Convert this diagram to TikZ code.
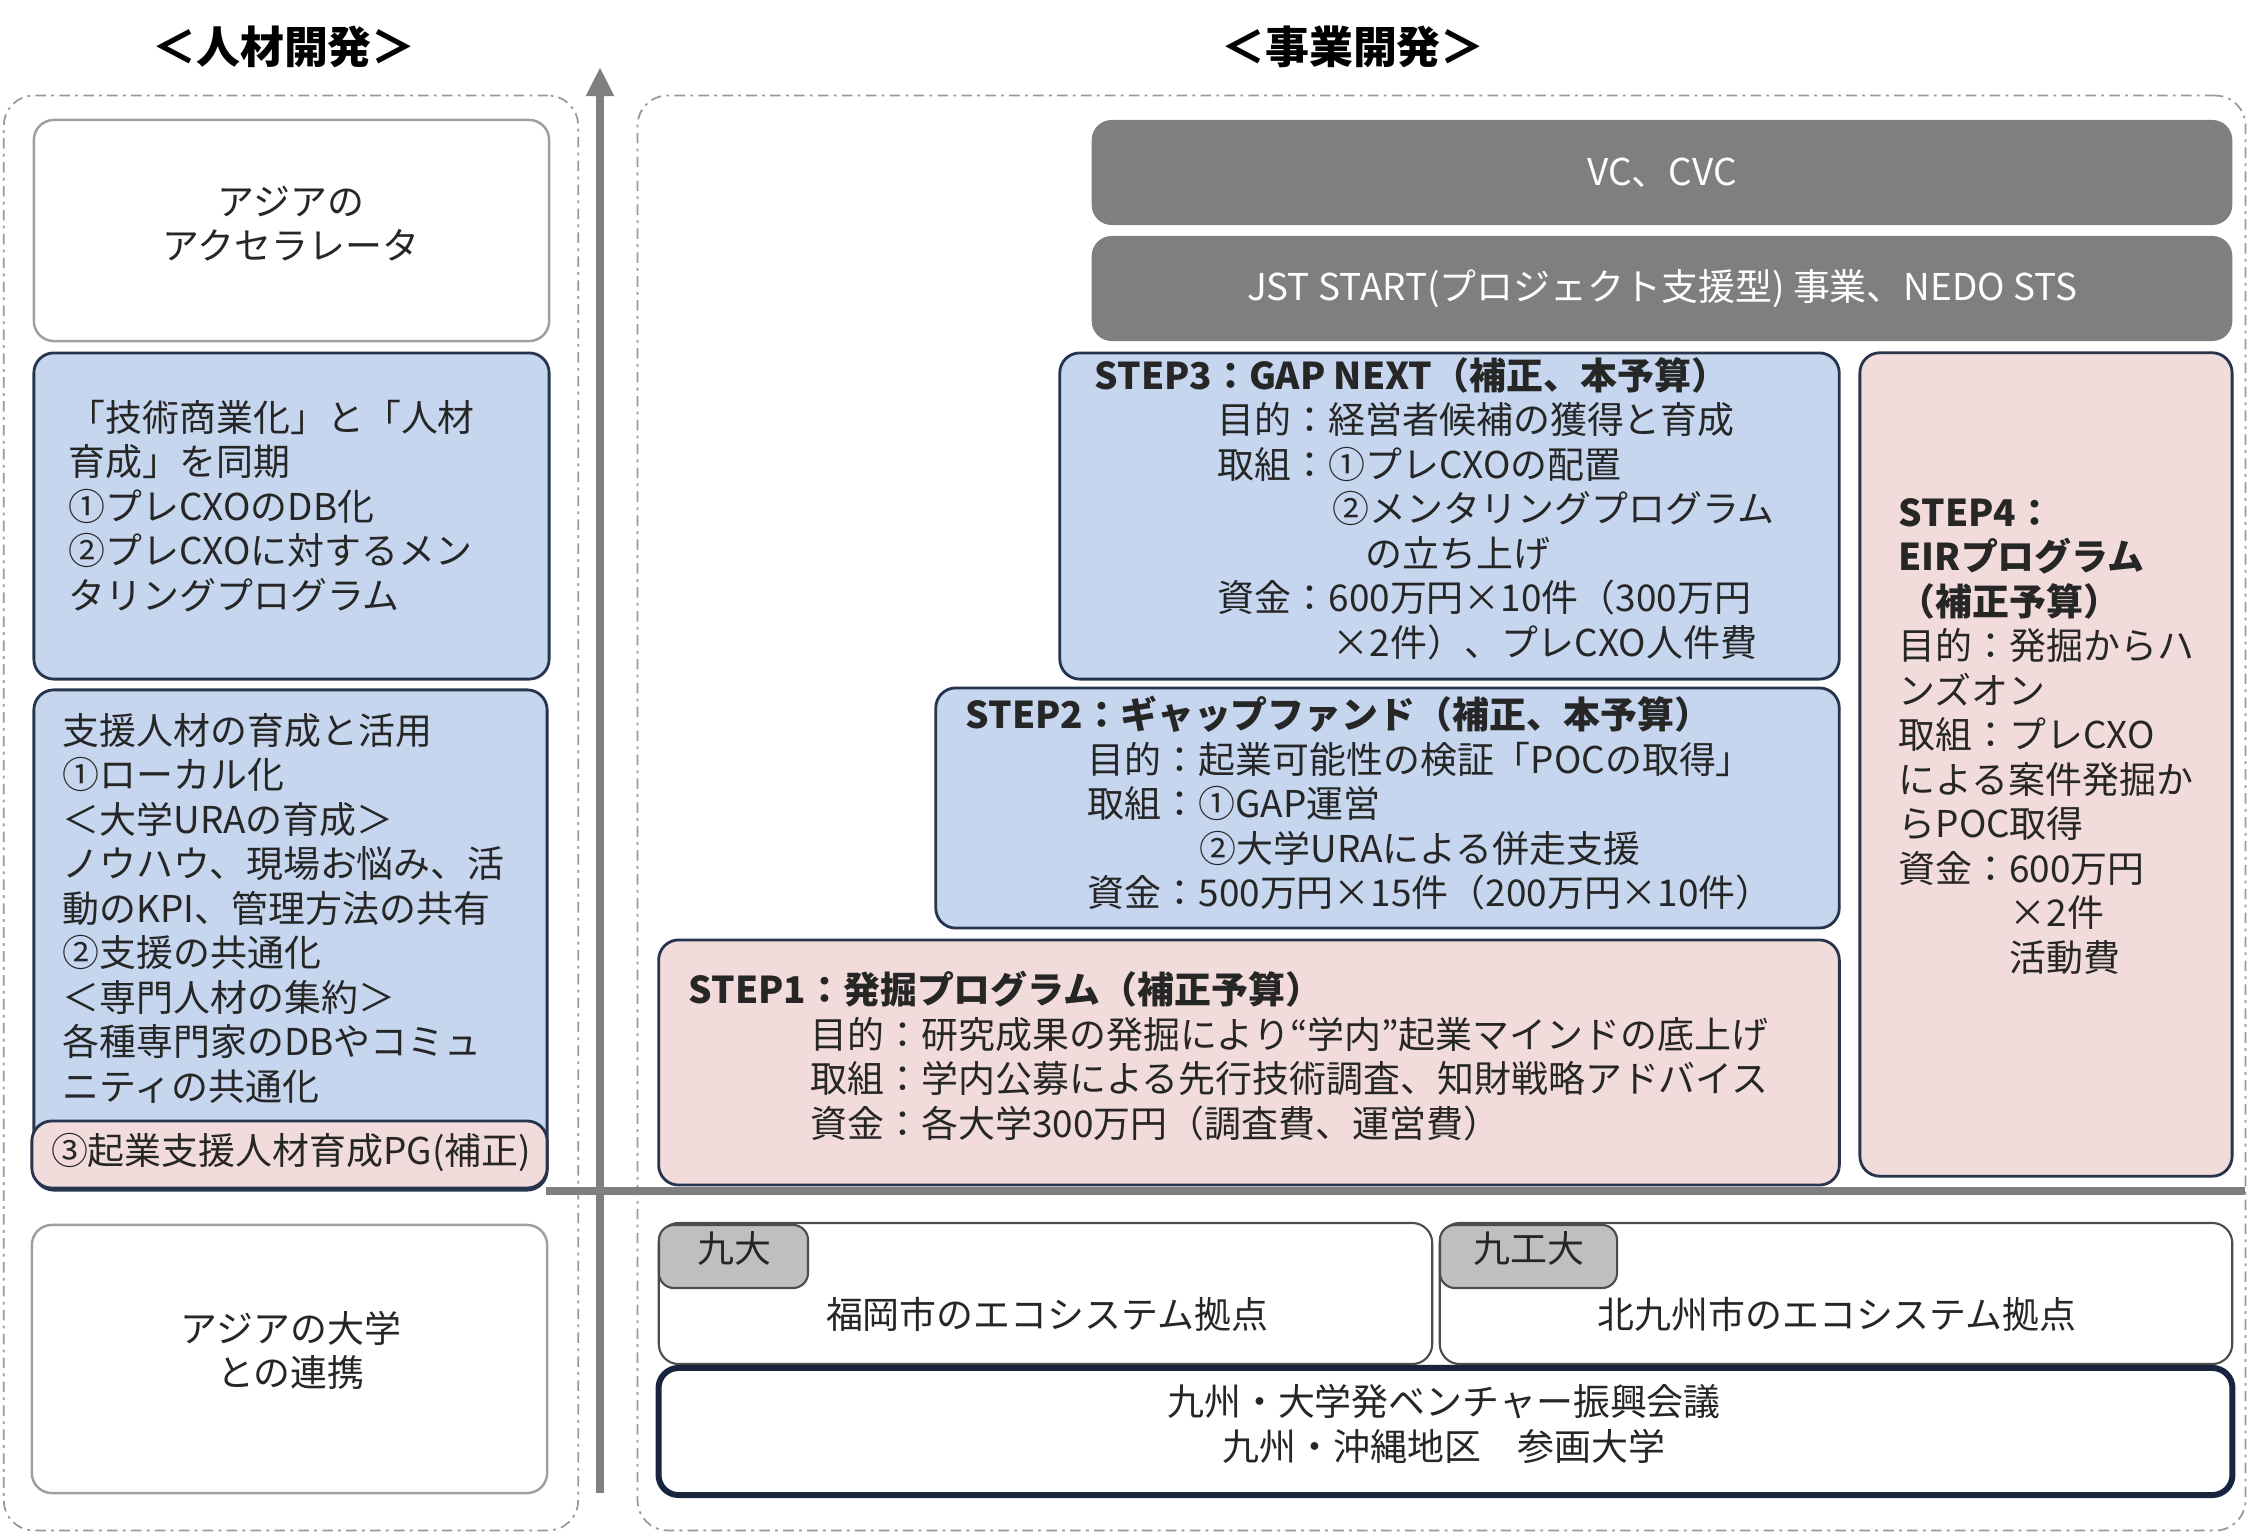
\documentclass[tikz,border=0pt]{standalone}
\usepackage{fontspec}
\setmainfont{Noto Sans CJK JP}
\usetikzlibrary{arrows.meta}

\definecolor{hrblue}{RGB}{197,214,238}
\definecolor{steppink}{RGB}{242,220,219}
\definecolor{vcgray}{RGB}{127,127,127}
\definecolor{tabgray}{RGB}{191,191,191}
\definecolor{boxline}{RGB}{38,52,78}
\definecolor{navyline}{RGB}{22,36,62}
\definecolor{textdark}{RGB}{38,38,38}

\tikzset{
  box/.style={draw, rounded corners=2mm, inner sep=0pt},
  bluebox/.style={box, draw=boxline, fill=hrblue, line width=0.8pt},
  pinkbox/.style={box, draw=boxline, fill=steppink, line width=0.8pt},
  whitebox/.style={box, draw=gray!75, fill=white, line width=0.7pt},
  darkbox/.style={box, draw=none, fill=vcgray, text=white, font=\fontsize{10.5}{12.65}\selectfont},
  basebox/.style={box, draw=gray!60!black, fill=white, line width=0.6pt},
  tabbox/.style={box, rounded corners=1.5mm, draw=gray!60!black, fill=tabgray, line width=0.6pt},
  councilbox/.style={box, draw=navyline, fill=white, line width=1.7pt},
  frame/.style={draw=gray!80, rounded corners=3mm, line width=0.5pt,
    dash pattern=on 3pt off 1.5pt on 0.8pt off 1.5pt, inner sep=0pt},
  axis/.style={draw=vcgray, line width=2.4pt},
  title/.style={font=\fontsize{12.5}{15}\selectfont\bfseries, text=black},
  txt/.style={inner sep=0pt, align=left, anchor=north west, text=textdark,
    font=\fontsize{10.5}{12.65}\selectfont},
  ctxt/.style={inner sep=0pt, align=center, text=textdark,
    font=\fontsize{10.5}{12.65}\selectfont}
}

\begin{document}
\begin{tikzpicture}[x=0.01cm, y=-0.01cm]
    \useasboundingbox (0,0) rectangle (2253,1533);

    % Frames
    \node (lframe) [frame, minimum width=5.74cm, minimum height=14.34cm] at (291,813) {};
    \node (rframe) [frame, minimum width=16.07cm, minimum height=14.34cm] at (1441.5,813) {};

    % Titles
    \node (thr) [title] at (284,47) {＜人材開発＞};
    \node (tbiz) [title] at (1353,47) {＜事業開発＞};

    % Axis
    \coordinate (abot) at (600,1493);
    \coordinate (atop) at (600,67);
    \coordinate (bleft) at (546,1191);
    \coordinate (bright) at (2245,1191);
    \draw[axis] (bleft) -- (bright);
    \draw[axis, -{Triangle[width=2.6mm,length=2.9mm]}] (abot) -- (atop);

    % Left boxes
    \node (acc) [whitebox, minimum width=5.15cm, minimum height=2.21cm] at (291.5,230.5) {};
    \node (hrone) [bluebox, minimum width=5.15cm, minimum height=3.26cm] at (291.5,516) {};
    \node (hrtwo) [bluebox, minimum width=5.13cm, minimum height=5.0cm] at (290.5,940) {};
    \node (pg) [pinkbox, minimum width=5.15cm, minimum height=0.67cm] at (289.5,1154.5) {};
    \node (asia) [whitebox, minimum width=5.15cm, minimum height=2.68cm] at (289.5,1359) {};

    % Right boxes
    \node (vc) [darkbox, minimum width=11.4cm, minimum height=1.05cm] at (1662,172.5) {VC、CVC};
    \node (jst) [darkbox, minimum width=11.4cm, minimum height=1.05cm] at (1662,288.5) {JST START(プロジェクト支援型) 事業、NEDO STS};
    \node (sthree) [bluebox, minimum width=7.79cm, minimum height=3.26cm] at (1449.5,516) {};
    \node (sfour) [pinkbox, minimum width=3.72cm, minimum height=8.23cm] at (2046,764.5) {};
    \node (stwo) [bluebox, minimum width=9.03cm, minimum height=2.40cm] at (1387.5,808) {};
    \node (sone) [pinkbox, minimum width=11.8cm, minimum height=2.45cm] at (1249,1062.5) {};
    \node (fk) [basebox, minimum width=7.73cm, minimum height=1.41cm] at (1045.5,1293.5) {};
    \node (kt) [basebox, minimum width=7.92cm, minimum height=1.41cm] at (1836,1293.5) {};
    \node (kutab) [tabbox, minimum width=1.49cm, minimum height=0.63cm] at (733.5,1256.5) {};
    \node (kittab) [tabbox, minimum width=1.77cm, minimum height=0.63cm] at (1528.5,1256.5) {};
    \node (kyu) [councilbox, minimum width=15.73cm, minimum height=1.27cm] at (1445.5,1431.5) {};

    % Left texts
    \node (acctxt) [ctxt] at (291,223.5) {アジアの\\アクセラレータ};
    \node (hronetxt) [txt] at (68,399.5) {「技術商業化」と「人材\\育成」を同期\\①プレCXOのDB化\\②プレCXOに対するメン\\タリングプログラム};
    \node (hrtwotxt) [txt] at (62,712.5) {支援人材の育成と活用\\①ローカル化\\＜大学URAの育成＞\\ノウハウ、現場お悩み、活\\動のKPI、管理方法の共有\\②支援の共通化\\＜専門人材の集約＞\\各種専門家のDBやコミュ\\ニティの共通化};
    \node (pgtxt) [ctxt] at (291,1152) {③起業支援人材育成PG(補正)};
    \node (asiatxt) [ctxt] at (291,1350.5) {アジアの大学\\との連携};

    % Step texts
    \node (sthreetxt) [txt] at (1094,356.5) {\textbf{STEP3：GAP NEXT（補正、本予算）}\\
      \hspace*{1.23cm}目的：経営者候補の獲得と育成\\
      \hspace*{1.23cm}取組：①プレCXOの配置\\
      \hspace*{2.38cm}②メンタリングプログラム\\
      \hspace*{2.71cm}の立ち上げ\\
      \hspace*{1.23cm}資金：600万円×10件（300万円\\
      \hspace*{2.38cm}×2件）、プレCXO人件費};
    \node (stwotxt) [txt] at (965,695.5) {\textbf{STEP2：ギャップファンド（補正、本予算）}\\
      \hspace*{1.22cm}目的：起業可能性の検証「POCの取得」\\
      \hspace*{1.22cm}取組：①GAP運営\\
      \hspace*{2.34cm}②大学URAによる併走支援\\
      \hspace*{1.22cm}資金：500万円×15件（200万円×10件）};
    \node (sonetxt) [txt] at (688,970.5) {\textbf{STEP1：発掘プログラム（補正予算）}\\
      \hspace*{1.22cm}目的：研究成果の発掘により“学内”起業マインドの底上げ\\
      \hspace*{1.22cm}取組：学内公募による先行技術調査、知財戦略アドバイス\\
      \hspace*{1.22cm}資金：各大学300万円（調査費、運営費）};
    \node (sfourtxt) [txt] at (1898,497.5) {\textbf{STEP4：}\\\textbf{EIRプログラム}\\\textbf{（補正予算）}\\
      目的：発掘からハ\\ンズオン\\取組：プレCXO\\による案件発掘か\\らPOC取得\\資金：600万円\\
      \hspace*{1.11cm}×2件\\\hspace*{1.11cm}活動費};

    % Base texts
    \node (kutabtxt) [ctxt] at (734,1248) {九大};
    \node (kittabtxt) [ctxt] at (1529,1248) {九工大};
    \node (fktxt) [ctxt] at (1047,1314) {福岡市のエコシステム拠点};
    \node (kttxt) [ctxt] at (1837,1314) {北九州市のエコシステム拠点};
    \node (kyutxt) [ctxt] at (1444,1424) {九州・大学発ベンチャー振興会議\\九州・沖縄地区　参画大学};
\end{tikzpicture}
\end{document}
